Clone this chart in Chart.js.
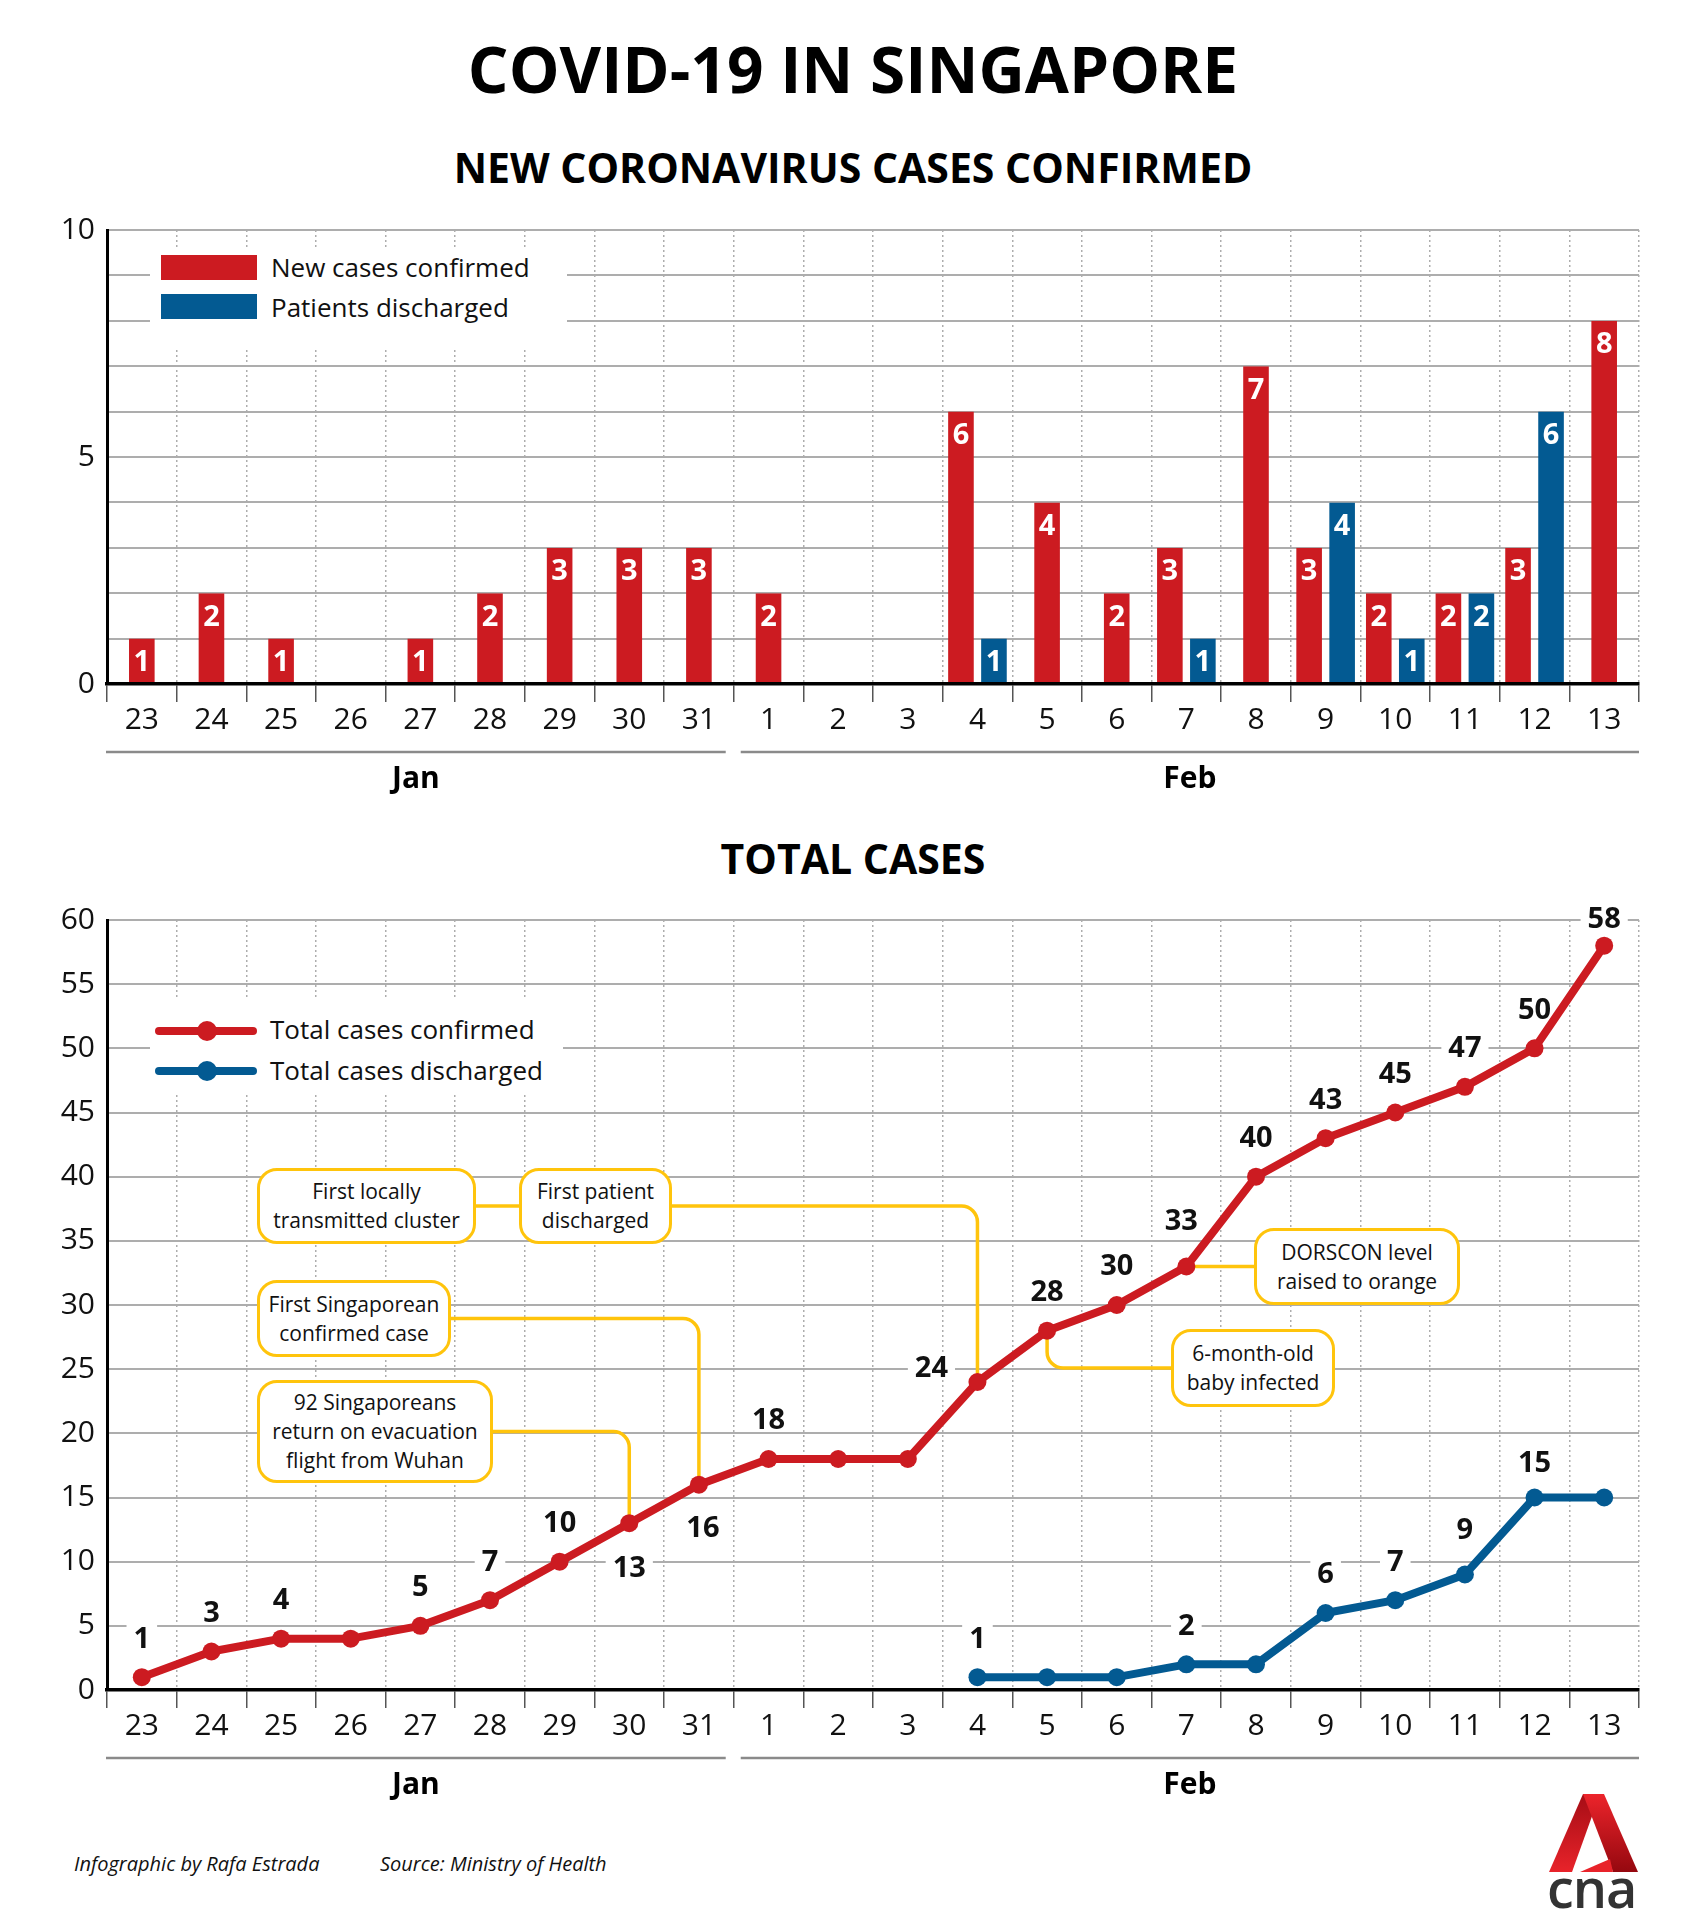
<!DOCTYPE html>
<html>
<head>
<meta charset="utf-8">
<script src="https://cdn.jsdelivr.net/npm/chart.js@4.4.1/dist/chart.umd.min.js"></script>
<style>
  html, body { margin: 0; padding: 0; background: #fff; }
  #page { position: relative; width: 1706px; height: 1932px; overflow: hidden; background: #fff;
          font-family: 'Open Sans', sans-serif; color: #111; }
  .abs { position: absolute; }
  .ttl { left: 0; width: 1706px; text-align: center; font-weight: 700; line-height: 1; white-space: nowrap; color: #000; }
  .note { position: absolute; box-sizing: border-box; border: 3.5px solid #FFC40C; border-radius: 20px; background: #fff;
          display: flex; align-items: center; justify-content: center; text-align: center;
          font-size: 21px; line-height: 29px; color: #111; z-index: 5; }
  .leg { position: absolute; background: #fff; z-index: 5; }
  .leg .t { position: absolute; font-size: 26px; line-height: 1; white-space: nowrap; color: #111; }
  .foot { position: absolute; font-size: 20px; font-style: italic; line-height: 1; white-space: nowrap; color: #111; }
</style>
</head>
<body>
<div id="page">
  <div class="abs ttl" style="top:37px;font-size:64px;">COVID-19 IN SINGAPORE</div>
  <div class="abs ttl" style="top:147px;font-size:41px;">NEW CORONAVIRUS CASES CONFIRMED</div>
  <div class="abs" style="left:0;top:200px;width:1706px;height:600px;"><canvas id="c1"></canvas></div>

  <div class="abs ttl" style="top:838px;font-size:41px;">TOTAL CASES</div>
  <div class="abs" style="left:0;top:890px;width:1706px;height:930px;"><canvas id="c2"></canvas></div>

  <!-- legend, bar chart -->
  <div class="leg" style="left:150px;top:247px;width:417px;height:101px;">
    <div style="position:absolute;left:11px;top:8px;width:96px;height:25px;background:#CC1B21;"></div>
    <div class="t" style="left:121px;top:7px;">New cases confirmed</div>
    <div style="position:absolute;left:11px;top:47px;width:96px;height:25px;background:#035A92;"></div>
    <div class="t" style="left:121px;top:47px;">Patients discharged</div>
  </div>

  <!-- legend, line chart -->
  <div class="leg" style="left:150px;top:997px;width:413px;height:96px;">
    <div style="position:absolute;left:5px;top:30px;width:102px;height:8px;border-radius:4px;background:#CC1B21;"></div>
    <div style="position:absolute;left:47px;top:24px;width:20px;height:20px;border-radius:10px;background:#CC1B21;"></div>
    <div class="t" style="left:120px;top:19px;">Total cases confirmed</div>
    <div style="position:absolute;left:5px;top:70px;width:102px;height:8px;border-radius:4px;background:#035A92;"></div>
    <div style="position:absolute;left:47px;top:64px;width:20px;height:20px;border-radius:10px;background:#035A92;"></div>
    <div class="t" style="left:120px;top:60px;">Total cases discharged</div>
  </div>

  <div id="notes"></div>

  <div class="foot" style="left:74px;top:1854px;">Infographic by Rafa Estrada</div>
  <div class="foot" style="left:380px;top:1854px;">Source: Ministry of Health</div>

  <svg class="abs" style="left:1540px;top:1790px;" width="110" height="90" viewBox="1540 1790 110 90">
    <defs>
      <linearGradient id="gl" x1="0" y1="0" x2="0" y2="1">
        <stop offset="0" stop-color="#A50D15"/><stop offset="1" stop-color="#E8232A"/>
      </linearGradient>
      <linearGradient id="gr" x1="0" y1="0" x2="0" y2="1">
        <stop offset="0" stop-color="#EC242B"/><stop offset="1" stop-color="#95080F"/>
      </linearGradient>
    </defs>
    <polygon points="1583,1794 1600,1794 1572,1872 1549,1872" fill="url(#gl)"/>
    <polygon points="1583,1794 1604,1794 1638,1872 1613,1872" fill="url(#gr)"/>
    <polygon points="1580,1872 1610,1859 1613,1872" fill="#E8232A"/>
  </svg>
  <div class="abs" style="left:1547px;top:1860px;font-size:54px;font-weight:600;line-height:1;letter-spacing:-1px;color:#333;">cna</div>
</div>

<script>
// ---------- data ----------
const days   = ['23','24','25','26','27','28','29','30','31','1','2','3','4','5','6','7','8','9','10','11','12','13'];
const months = ['Jan','Jan','Jan','Jan','Jan','Jan','Jan','Jan','Jan',
                'Feb','Feb','Feb','Feb','Feb','Feb','Feb','Feb','Feb','Feb','Feb','Feb','Feb'];
const newConfirmed   = [1, 2, 1, null, 1, 2, 3, 3, 3, 2, null, null, 6, 4, 2, 3, 7, 3, 2, 2, 3, 8];
const newDischarged  = [null, null, null, null, null, null, null, null, null, null, null, null, 1, null, null, 1, null, 4, 1, 2, 6, null];
const totalConfirmed = [1, 3, 4, 4, 5, 7, 10, 13, 16, 18, 18, 18, 24, 28, 30, 33, 40, 43, 45, 47, 50, 58];
const totalDischarged = [null, null, null, null, null, null, null, null, null, null, null, null, 1, 1, 1, 2, 2, 6, 7, 9, 15, 15];
const barTicks  = [0, 5, 10];
const lineTicks = [0, 5, 10, 15, 20, 25, 30, 35, 40, 45, 50, 55, 60];

// ---------- styling ----------
const RED = '#CC1B21', BLUE = '#035A92', YELLOW = '#FFC40C', GRID = '#ADADAD';
const FONT = "'Open Sans', sans-serif";
const CHART2_TOP = 890;

// annotation boxes (page pixels) attached to points of the confirmed line
const notes = [
  { html: 'First locally<br>transmitted cluster', left: 257, top: 1168, width: 219, height: 76, kind: 'link', toLeft: 519 },
  { html: 'First patient<br>discharged', left: 519, top: 1168, width: 153, height: 76, kind: 'hv', day: '4' },
  { html: 'First Singaporean<br>confirmed case', left: 257, top: 1280, width: 194, height: 77, kind: 'hv', day: '31' },
  { html: '92 Singaporeans<br>return on evacuation<br>flight from Wuhan', left: 257, top: 1380, width: 236, height: 103, kind: 'hv', day: '30' },
  { html: 'DORSCON level<br>raised to orange', left: 1254, top: 1228, width: 206, height: 77, kind: 'h', day: '7' },
  { html: '6-month-old<br>baby infected', left: 1171, top: 1329, width: 164, height: 78, kind: 'vh', day: '5' }
];
const notesEl = document.getElementById('notes');
notes.forEach(n => {
  const d = document.createElement('div');
  d.className = 'note';
  d.style.left = n.left + 'px'; d.style.top = n.top + 'px';
  d.style.width = n.width + 'px'; d.style.height = n.height + 'px';
  d.innerHTML = n.html;
  notesEl.appendChild(d);
});

// ---------- plugins ----------
const monthGroups = {
  id: 'monthGroups',
  afterDraw(chart) {
    const { ctx, chartArea } = chart;
    const xs = chart.scales.x;
    const half = (xs.getPixelForValue(1) - xs.getPixelForValue(0)) / 2;
    let start = 0;
    ctx.save();
    for (let i = 1; i <= months.length; i++) {
      if (i === months.length || months[i] !== months[start]) {
        let x1 = xs.getPixelForValue(start) - half;
        let x2 = xs.getPixelForValue(i - 1) + half;
        if (start > 0) x1 += 7; else x1 -= 1;
        if (i < months.length) x2 -= 8;
        const y = chartArea.bottom + 68;
        ctx.strokeStyle = '#8a8a8a'; ctx.lineWidth = 2.5;
        ctx.beginPath(); ctx.moveTo(x1, y); ctx.lineTo(x2, y); ctx.stroke();
        ctx.fillStyle = '#000';
        ctx.font = "700 30px " + FONT;
        ctx.textAlign = 'center'; ctx.textBaseline = 'alphabetic';
        ctx.fillText(months[start], (x1 + x2) / 2, chartArea.bottom + 93 + 10.7);
        start = i;
      }
    }
    ctx.restore();
  }
};

const barLabels = {
  id: 'barLabels',
  afterDatasetsDraw(chart) {
    const ctx = chart.ctx;
    ctx.save();
    ctx.fillStyle = '#fff';
    ctx.font = "700 29px " + FONT;
    ctx.textAlign = 'center'; ctx.textBaseline = 'alphabetic';
    chart.data.datasets.forEach((ds, di) => {
      const meta = chart.getDatasetMeta(di);
      meta.data.forEach((el, i) => {
        const v = ds.data[i];
        if (v === null || v === undefined) return;
        ctx.fillText(String(v), el.x, el.y + 22 + 10.4);
      });
    });
    ctx.restore();
  }
};

// label placement for the line chart (offsets from the point, px)
const labelRules = [
  { skip: [3, 10, 11], offset: { 7: [0, 43], 8: [4, 42], 12: [-46, -15], 15: [-5, -47], 21: [0, -28] } },
  { skip: [13, 14, 16, 21], offset: { 19: [0, -46], 20: [0, -36] } }
];

const connectors = {
  id: 'connectors',
  beforeDatasetsDraw(chart) {
    const ctx = chart.ctx, xs = chart.scales.x, ys = chart.scales.y;
    ctx.save();
    ctx.strokeStyle = YELLOW; ctx.lineWidth = 3.5; ctx.lineJoin = 'round';
    notes.forEach(n => {
      const L = n.left, R = n.left + n.width;
      const CY = n.top - CHART2_TOP + n.height / 2;
      ctx.beginPath();
      if (n.kind === 'link') {
        ctx.moveTo(R, CY); ctx.lineTo(n.toLeft, CY);
      } else {
        const i = days.indexOf(n.day);
        const px = xs.getPixelForValue(i), py = ys.getPixelForValue(totalConfirmed[i]);
        if (n.kind === 'hv') { ctx.moveTo(R, CY); ctx.arcTo(px, CY, px, py, 16); ctx.lineTo(px, py); }
        else if (n.kind === 'h') { ctx.moveTo(px, py); ctx.lineTo(L, py); }
        else if (n.kind === 'vh') { ctx.moveTo(px, py); ctx.arcTo(px, CY, L, CY, 16); ctx.lineTo(L, CY); }
      }
      ctx.stroke();
    });
    ctx.restore();

    // value labels with white backing
    ctx.save();
    ctx.font = "700 29px " + FONT;
    ctx.textAlign = 'center'; ctx.textBaseline = 'alphabetic';
    chart.data.datasets.forEach((ds, di) => {
      const meta = chart.getDatasetMeta(di);
      const rule = labelRules[di];
      meta.data.forEach((el, i) => {
        const v = ds.data[i];
        if (v === null || v === undefined || rule.skip.includes(i)) return;
        const off = rule.offset[i] || [0, -40];
        const cx = el.x + off[0], cy = el.y + off[1];
        const txt = String(v);
        const w = ctx.measureText(txt).width + 14;
        ctx.fillStyle = '#fff';
        ctx.fillRect(cx - w / 2, cy - 13, w, 26);
        ctx.fillStyle = '#111';
        ctx.fillText(txt, cx, cy + 10.4);
      });
    });
    ctx.restore();
  }
};

// ---------- shared axis pieces ----------
function xAxis(height) {
  return {
    offset: true,
    grid: { offset: true, color: GRID, lineWidth: 1.5, drawTicks: true, tickLength: 18, tickColor: '#555', tickWidth: 1.5 },
    border: { display: true, color: '#000', width: 3.5, dash: [2, 3], z: 1 },
    ticks: { font: { family: 'Open Sans', size: 30 }, color: '#111', padding: 0, autoSkip: false, maxRotation: 0 },
    afterFit(s) { s.height = height; }
  };
}
function yAxis(min, max, step, shown) {
  return {
    min, max,
    ticks: { stepSize: step, autoSkip: false, font: { family: 'Open Sans', size: 30 }, color: '#111', padding: 12,
             callback: v => (shown.includes(v) ? String(v) : '') },
    grid: { color: GRID, lineWidth: 2, drawTicks: false },
    border: { display: true, color: '#000', width: 3 },
    afterFit(s) { s.width = 107; }
  };
}

// ---------- bar chart ----------
const barStyle = { borderColor: 'rgba(0,0,0,0)', borderWidth: { left: 3.7, right: 3.7, top: 0, bottom: 0 },
                   borderSkipped: false, barThickness: 33, skipNull: true, inflateAmount: 0 };
new Chart(document.getElementById('c1'), {
  type: 'bar',
  data: {
    labels: days,
    datasets: [
      Object.assign({ label: 'New cases confirmed', data: newConfirmed, backgroundColor: RED }, barStyle),
      Object.assign({ label: 'Patients discharged', data: newDischarged, backgroundColor: BLUE }, barStyle)
    ]
  },
  options: {
    responsive: true, maintainAspectRatio: false, animation: false,
    layout: { padding: { left: 0, right: 67, top: 26, bottom: 0 } },
    plugins: { legend: { display: false }, tooltip: { enabled: false } },
    scales: { x: xAxis(116), y: yAxis(0, 10, 1, barTicks) }
  },
  plugins: [barLabels, monthGroups]
});

// ---------- line chart ----------
function lineStyle(color) {
  return { borderColor: color, backgroundColor: color, pointBackgroundColor: color, pointBorderColor: color,
           borderWidth: 8, pointRadius: 9, pointBorderWidth: 0, pointHoverRadius: 9, tension: 0,
           borderJoinStyle: 'round', borderCapStyle: 'round', spanGaps: false };
}
new Chart(document.getElementById('c2'), {
  type: 'line',
  data: {
    labels: days,
    datasets: [
      Object.assign({ label: 'Total cases confirmed', data: totalConfirmed }, lineStyle(RED)),
      Object.assign({ label: 'Total cases discharged', data: totalDischarged }, lineStyle(BLUE))
    ]
  },
  options: {
    responsive: true, maintainAspectRatio: false, animation: false,
    layout: { padding: { left: 0, right: 67, top: 27, bottom: 0 } },
    plugins: { legend: { display: false }, tooltip: { enabled: false } },
    scales: { x: xAxis(130), y: yAxis(0, 60, 5, lineTicks) }
  },
  plugins: [connectors, monthGroups]
});
</script>
</body>
</html>
